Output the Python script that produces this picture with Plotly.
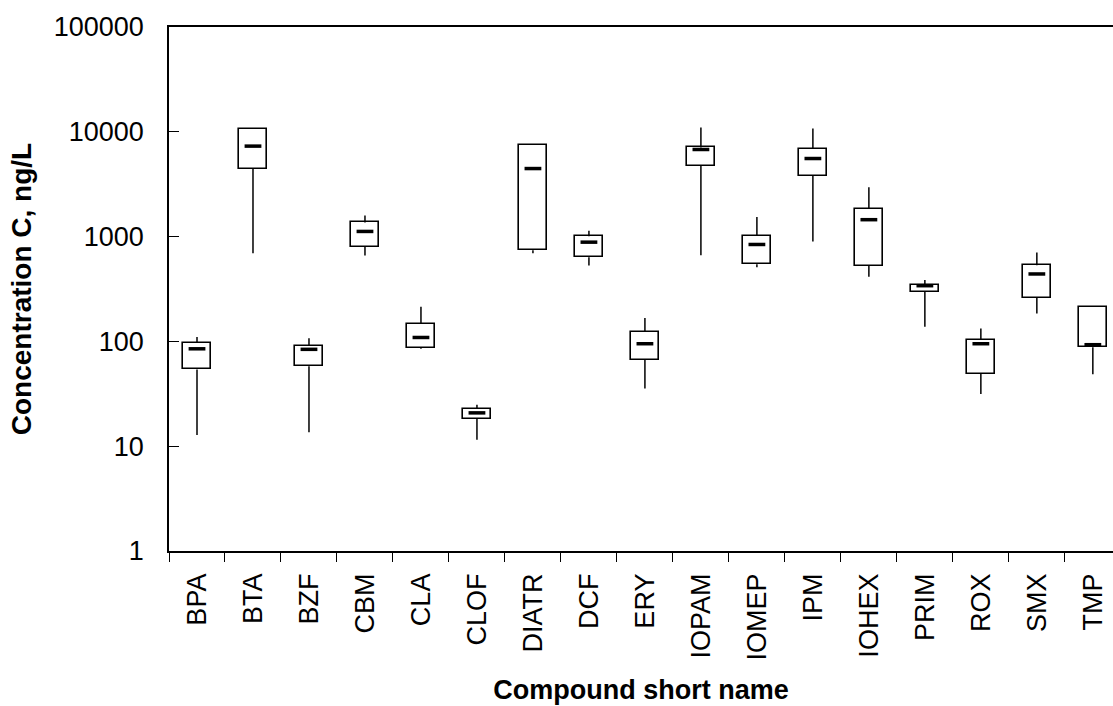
import plotly.graph_objects as go

categories = ["BPA", "BTA", "BZF", "CBM", "CLA", "CLOF", "DIATR", "DCF", "ERY",
              "IOPAM", "IOMEP", "IPM", "IOHEX", "PRIM", "ROX", "SMX", "TMP"]
q1 = [54, 4460, 58, 804, 87, 18.3, 742, 636, 67, 4730, 545, 3820, 529, 296, 49, 261, 88]
median = [85, 7300, 84, 1120, 109, 20.8, 4460, 885, 95, 6780, 841, 5560, 1450, 340, 95, 440, 93]
q3 = [97, 10600, 91, 1365, 147, 22.8, 7460, 1010, 123, 7090, 1018, 6890, 1834, 343, 103, 533, 214]
lower = [12.8, 695, 13.6, 659, 85, 11.5, 695, 529, 35.6, 665, 510, 898, 415, 138, 31.4, 185, 48.5]
upper = [110, 10600, 107, 1593, 214, 24.9, 7460, 1136, 167, 11020, 1537, 10780, 2950, 386, 133, 704, 214]
y_ticks = [1, 10, 100, 1000, 10000, 100000]

FONT = "Liberation Sans, Arial, sans-serif"

fig = go.Figure()
fig.add_trace(go.Bar(
    x=categories,
    y=[b - a for a, b in zip(q1, q3)],
    base=q1,
    width=0.5,
    marker=dict(color="white", line=dict(color="black", width=1.6)),
    showlegend=False,
))
fig.add_trace(go.Scatter(
    x=categories, y=q1, mode="markers",
    marker=dict(size=1, color="rgba(0,0,0,0)"),
    error_y=dict(type="data", symmetric=False, array=[0] * len(q1),
                 arrayminus=[a - l for a, l in zip(q1, lower)],
                 width=0, thickness=1.5, color="black"),
    showlegend=False,
))
fig.add_trace(go.Scatter(
    x=categories, y=q3, mode="markers",
    marker=dict(size=1, color="rgba(0,0,0,0)"),
    error_y=dict(type="data", symmetric=False, arrayminus=[0] * len(q3),
                 array=[u - b for b, u in zip(q3, upper)],
                 width=0, thickness=1.5, color="black"),
    showlegend=False,
))
fig.add_trace(go.Scatter(
    x=categories, y=median, mode="markers",
    marker=dict(symbol="line-ew", size=12, line=dict(color="black", width=3.5)),
    showlegend=False,
))

fig.update_layout(
    width=1113, height=706,
    margin=dict(l=169, r=0, t=27, b=155),
    paper_bgcolor="white", plot_bgcolor="white",
    font=dict(family=FONT, color="black", size=27),
    bargap=0,
)
fig.update_xaxes(
    type="category",
    range=[-0.5, 16.36],
    showline=True, linecolor="black", linewidth=1.6, mirror=True,
    ticks="outside", ticklen=9, tickwidth=1.3, tickcolor="black",
    tickson="boundaries",
    tickangle=-90,
    ticklabelstandoff=10,
    tickfont=dict(size=27),
    showgrid=False, zeroline=False,
    title=dict(text="<b>Compound short name</b>", font=dict(size=27), standoff=20),
)
fig.update_yaxes(
    type="log",
    range=[0, 5],
    tickvals=y_ticks,
    ticktext=[str(v) for v in y_ticks],
    showline=True, linecolor="black", linewidth=1.6,
    ticks="inside", ticklen=10, tickwidth=1.3, tickcolor="black",
    ticklabelstandoff=18,
    tickfont=dict(size=27),
    showgrid=False, zeroline=False,
    title=dict(text="<b>Concentration C, ng/L</b>", font=dict(size=28), standoff=14),
)

fig.write_html("out.html")
